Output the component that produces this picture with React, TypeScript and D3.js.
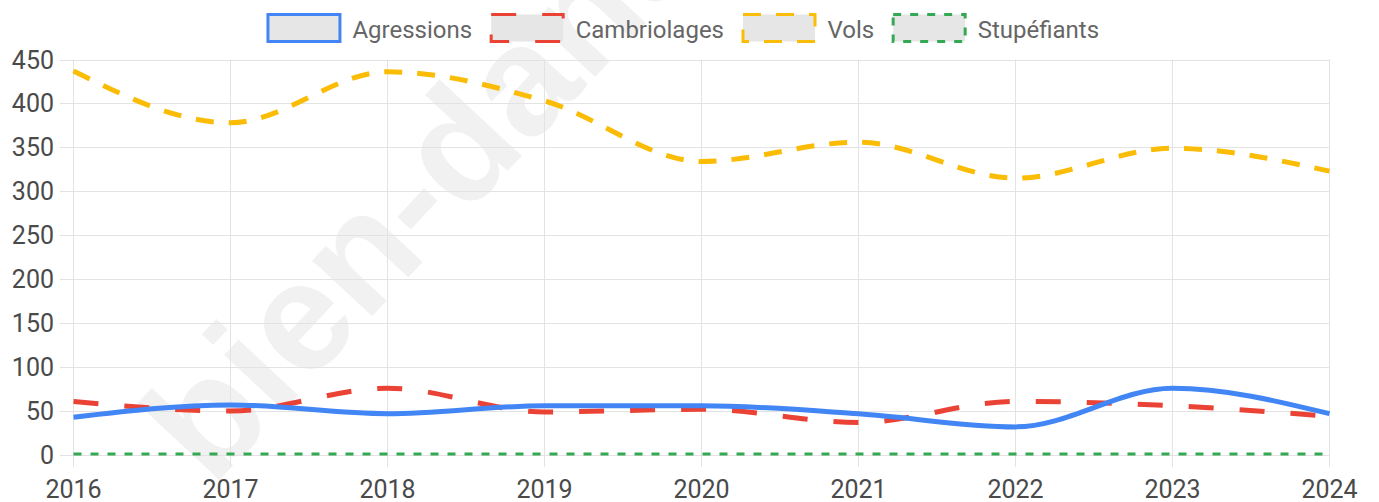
import React, { useEffect, useRef } from 'react';
import * as d3 from 'd3';

const years = ['2016', '2017', '2018', '2019', '2020', '2021', '2022', '2023', '2024'];
const agressions = [43, 57, 47, 56, 56, 47, 32, 76, 47];
const cambriolages = [61, 50, 76, 49, 52, 37, 61, 56, 44];
const vols = [437, 378, 436, 403, 334, 356, 315, 349, 323];
const stupefiants = [1, 1, 1, 1, 1, 1, 1, 1, 1];
const yTicks = [0, 50, 100, 150, 200, 250, 300, 350, 400, 450];

const series = [
  { name: 'Agressions', values: agressions, color: '#4285f4', dash: '', width: 5 },
  { name: 'Cambriolages', values: cambriolages, color: '#ea4335', dash: '25,26', width: 5 },
  { name: 'Vols', values: vols, color: '#fbbc05', dash: '18,15', width: 5 },
  { name: 'Stupéfiants', values: stupefiants, color: '#34a853', dash: '8,9', width: 3 },
];

export default function App() {
  const svgRef = useRef<SVGSVGElement | null>(null);
  const width = 1379;
  const height = 502;

  useEffect(() => {
    const svg = d3.select(svgRef.current!);
    svg.selectAll('*').remove();
    const font = 'Roboto, sans-serif';

    const x = d3.scalePoint<string>().domain(years).range([73.5, 1329.5]);
    const y = d3.scaleLinear().domain([0, 450]).range([455, 59.5]);

    // watermark
    svg
      .append('text')
      .attr('transform', 'translate(212,488) rotate(-47)')
      .attr('font-family', '"Liberation Sans", Arial, sans-serif')
      .attr('font-weight', 700)
      .attr('font-size', 155)
      .attr('fill', 'rgba(0,0,0,0.055)')
      .text('bien-dans-ma-ville.fr');

    // grid
    const grid = svg.append('g').attr('stroke', '#e3e3e3').attr('stroke-width', 1);
    grid
      .selectAll('line.h')
      .data(yTicks)
      .join('line')
      .attr('x1', 60)
      .attr('x2', 1329.5)
      .attr('y1', (d) => Math.round(y(d)) + 0.5)
      .attr('y2', (d) => Math.round(y(d)) + 0.5);
    grid
      .selectAll('line.v')
      .data(years)
      .join('line')
      .attr('x1', (d) => x(d)!)
      .attr('x2', (d) => x(d)!)
      .attr('y1', 59.5)
      .attr('y2', 467);

    // y labels
    svg
      .append('g')
      .selectAll('text')
      .data(yTicks)
      .join('text')
      .attr('x', 54)
      .attr('y', (d) => y(d) + 9)
      .attr('text-anchor', 'end')
      .attr('font-family', font)
      .attr('font-size', 25)
      .attr('fill', '#4a4a4a')
      .text((d) => String(d));

    // x labels
    svg
      .append('g')
      .selectAll('text')
      .data(years)
      .join('text')
      .attr('x', (d) => x(d)!)
      .attr('y', 498)
      .attr('text-anchor', 'middle')
      .attr('font-family', font)
      .attr('font-size', 25)
      .attr('fill', '#4a4a4a')
      .text((d) => d);

    // lines, first dataset drawn on top
    const line = d3
      .line<number>()
      .x((_, i) => x(years[i])!)
      .y((v) => y(v))
      .curve(d3.curveMonotoneX);
    const lines = svg.append('g').attr('fill', 'none');
    [...series].reverse().forEach((s) => {
      lines
        .append('path')
        .attr('d', line(s.values))
        .attr('stroke', s.color)
        .attr('stroke-width', s.width)
        .attr('stroke-dasharray', s.dash || null);
    });

    // legend
    const legend = svg.append('g');
    const boxW = 72;
    const boxH = 27;
    const gap = 11;
    const itemGap = 19;
    const items = series.map((s) => {
      const g = legend.append('g');
      g.append('rect')
        .attr('width', boxW)
        .attr('height', boxH)
        .attr('fill', '#e6e6e6')
        .attr('stroke', s.color)
        .attr('stroke-width', 3)
        .attr('stroke-dasharray', s.dash || null);
      const t = g
        .append('text')
        .attr('x', boxW + 1.5 + gap)
        .attr('y', boxH / 2 + 9.5)
        .attr('font-family', font)
        .attr('font-size', 24)
        .attr('fill', '#666')
        .text(s.name);
      const w = (t.node() as SVGTextElement).getComputedTextLength();
      return { g, w: boxW + 1.5 + gap + w };
    });
    const total = items.reduce((a, it) => a + it.w, 0) + itemGap * (items.length - 1);
    let cx = 682 - total / 2;
    items.forEach((it) => {
      it.g.attr('transform', `translate(${cx + 1.5},14.5)`);
      cx += it.w + itemGap;
    });
  }, []);

  return (
    <svg
      ref={svgRef}
      width={width}
      height={height}
      style={{ position: 'absolute', left: 0, top: 0, background: '#fff' }}
    />
  );
}
